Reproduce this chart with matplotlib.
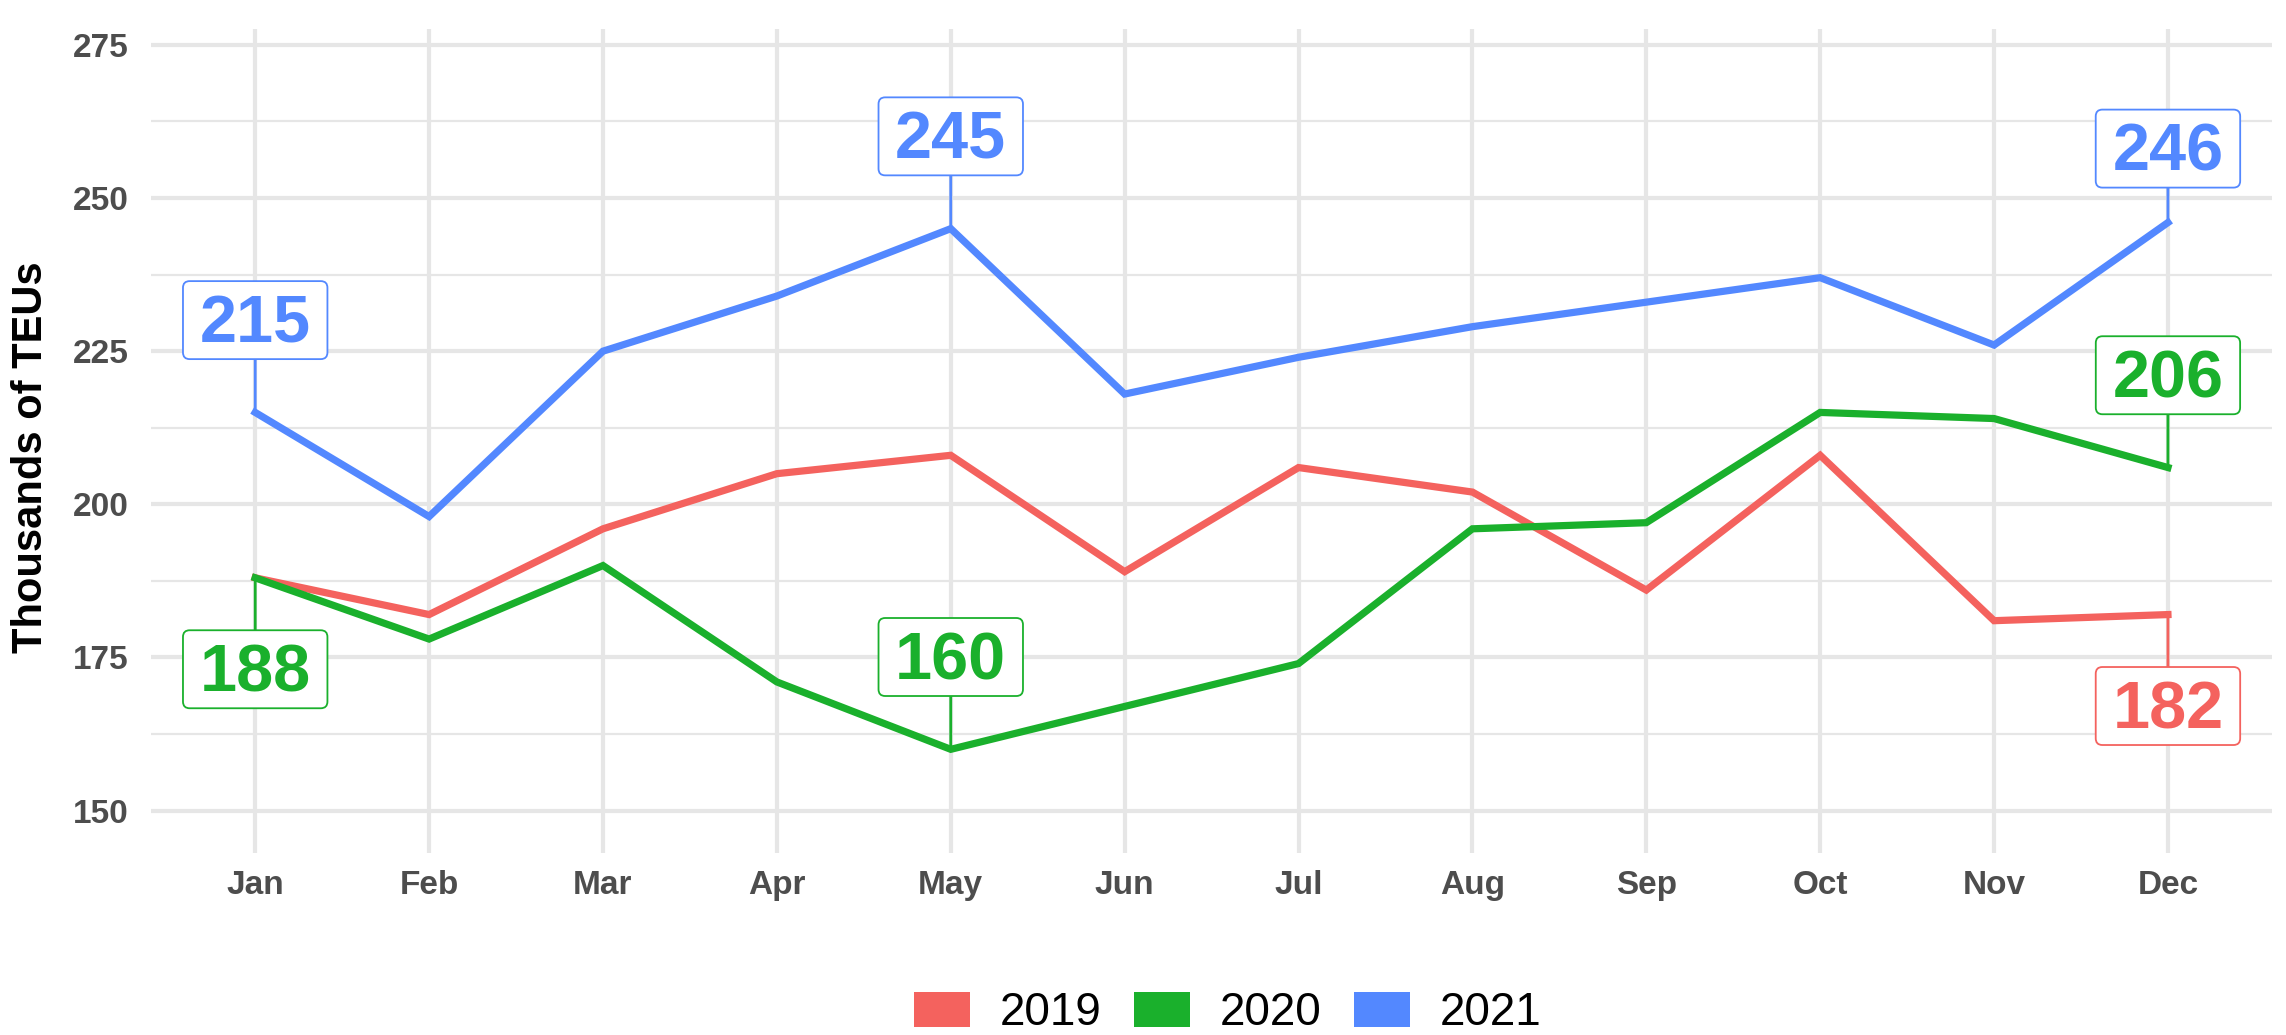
import matplotlib
matplotlib.use("Agg")
import matplotlib.pyplot as plt
from matplotlib.patches import Patch, BoxStyle

plt.rcParams['font.family'] = ['Liberation Sans', 'DejaVu Sans']

# data (thousands of TEUs)
months = ['Jan', 'Feb', 'Mar', 'Apr', 'May', 'Jun', 'Jul', 'Aug', 'Sep', 'Oct', 'Nov', 'Dec']
v2019 = [188, 182, 196, 205, 208, 189, 206, 202, 186, 208, 181, 182]
v2020 = [188, 178, 190, 171, 160, 167, 174, 196, 197, 215, 214, 206]
v2021 = [215, 198, 225, 234, 245, 218, 224, 229, 233, 237, 226, 246]
years = ['2019', '2020', '2021']
colors = ['#F4625E', '#1AB02C', '#5388FF']

# which points get a label: (year index, month index, vertical nudge)
labelled = [(2, 0, 15), (2, 4, 15), (2, 11, 12),
            (1, 0, -15), (1, 4, 15), (1, 11, 15),
            (0, 11, -15)]


# label box: wider padding left/right than top/bottom, like geom_label
def label_box(x0, y0, width, height, mutation_size):
    px = 0.25 * mutation_size
    top = 0.2 * mutation_size
    bottom = 0.04 * mutation_size
    rnd = BoxStyle.Round(pad=0, rounding_size=0.1)
    return rnd(x0 - px, y0 - bottom, width + 2 * px, height + top + bottom, mutation_size)


fig = plt.figure(figsize=(22.86, 10.35), dpi=100)
ax = fig.add_axes([0.066, 0.176, 0.928, 0.796])

x = list(range(1, len(months) + 1))
series = [v2019, v2020, v2021]
for vals, c in zip(series, colors):
    ax.plot(x, vals, color=c, linewidth=5.2, solid_joinstyle='miter', zorder=3)

for yi, mi, dy in labelled:
    val = series[yi][mi]
    ax.annotate(str(val), xy=(x[mi], val), xytext=(x[mi], val + dy - 0.8),
                ha='center', va='center', fontsize=48, fontweight='bold',
                color=colors[yi], zorder=5,
                bbox=dict(boxstyle=label_box, fc='white', ec=colors[yi], lw=1.3),
                arrowprops=dict(arrowstyle='-', color=colors[yi], lw=2,
                                shrinkA=0, shrinkB=0))

ax.set_xlim(0.4, 12.6)
ax.set_ylim(143.1, 277.6)
ax.set_xticks(x)
ax.set_xticklabels(months)
ax.set_yticks([150, 175, 200, 225, 250, 275])
ax.set_yticks([162.5, 187.5, 212.5, 237.5, 262.5], minor=True)

ax.grid(True, which='major', color='#E6E6E6', linewidth=3, zorder=0)
ax.grid(True, which='minor', axis='y', color='#E6E6E6', linewidth=1.6, zorder=0)
ax.set_axisbelow(True)
for s in ax.spines.values():
    s.set_visible(False)

ax.tick_params(axis='both', which='both', length=0, labelsize=24, labelcolor='#4D4D4D')
ax.tick_params(axis='y', pad=16)
ax.tick_params(axis='x', pad=12)
for lab in ax.get_xticklabels() + ax.get_yticklabels():
    lab.set_fontweight('bold')

ax.set_ylabel('Thousands of TEUs', fontsize=30, fontweight='bold')
ax.yaxis.set_label_coords(-0.047, 0.48)

handles = [Patch(facecolor=c, edgecolor='none', label=y) for y, c in zip(years, colors)]
fig.legend(handles=handles, loc='center', bbox_to_anchor=(0.537, 0.021), ncol=3,
           frameon=False, fontsize=33, handlelength=1.22, handleheight=0.8,
           handletextpad=0.66, columnspacing=0.7, borderaxespad=0)

fig.savefig('out.png', dpi=100)
